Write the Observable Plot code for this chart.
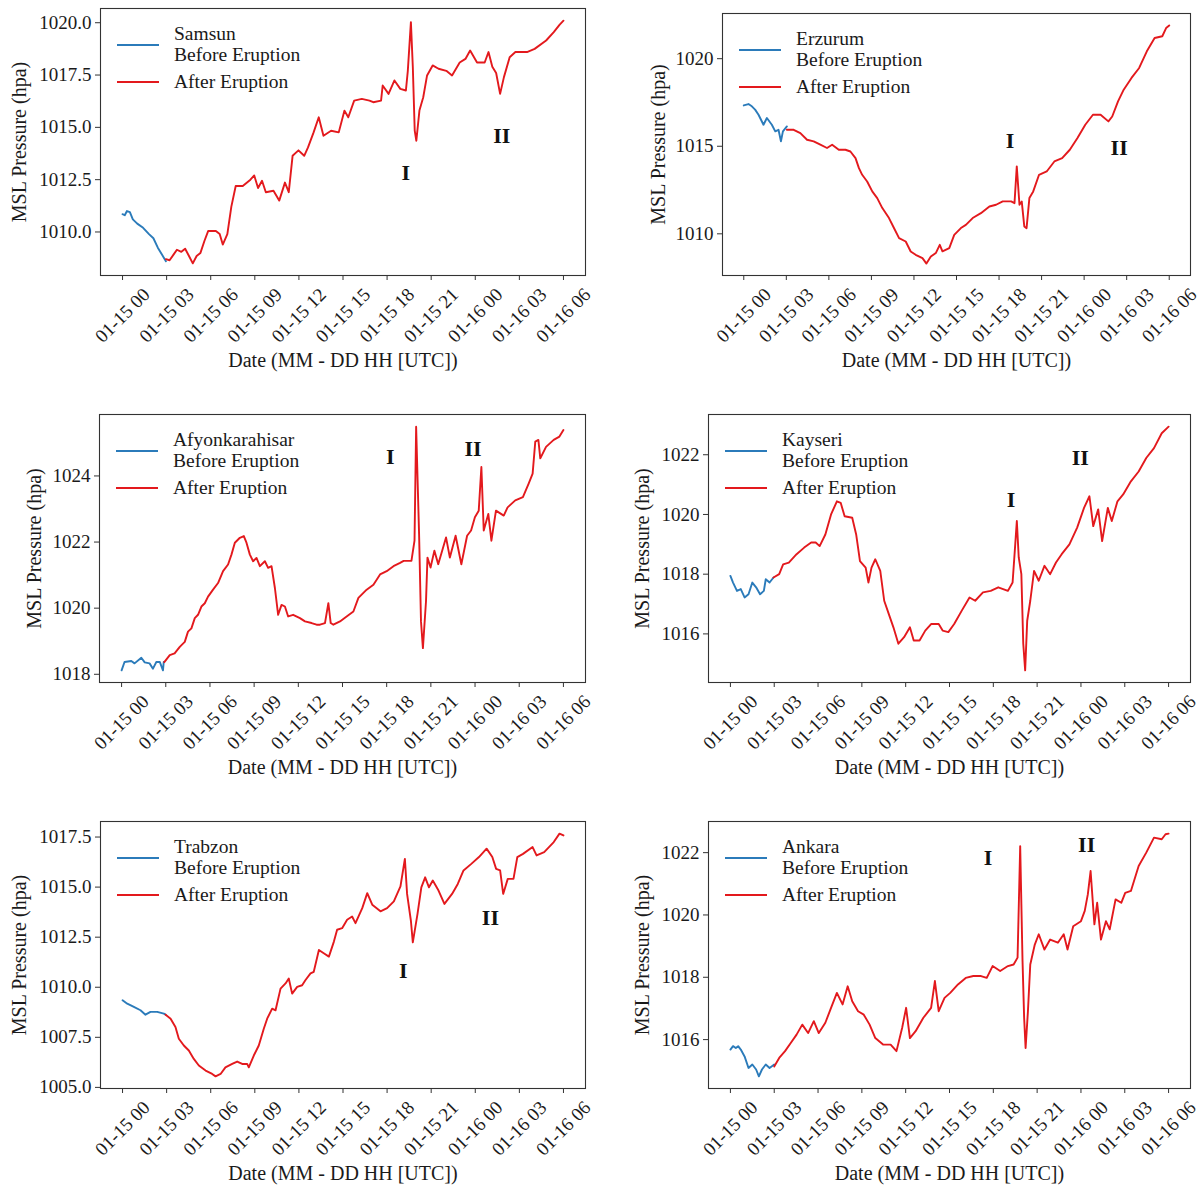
<!DOCTYPE html>
<html><head><meta charset="utf-8">
<script src="https://cdn.jsdelivr.net/npm/d3@7"></script>
<script src="https://cdn.jsdelivr.net/npm/@observablehq/plot@0.6"></script>
<style>
html,body{margin:0;padding:0;background:#fff;}
#root{position:relative;width:1204px;height:1189px;background:#fff;font-family:"Liberation Serif","Times New Roman",serif;overflow:hidden;}
.panel{position:absolute;}
.legend{position:absolute;width:260px;height:90px;}
.legend .sw{position:absolute;left:17px;width:42px;height:2px;}
.legend .lb{position:absolute;left:74px;font-size:19.5px;line-height:22px;color:#1a1a1a;white-space:nowrap;}
</style></head>
<body><div id="root"></div>
<script>
// ---- shared axis values ----
const tickHours = [0, 3, 6, 9, 12, 15, 18, 21, 24, 27, 30];
const tickLabels = ["01-15 00","01-15 03","01-15 06","01-15 09","01-15 12","01-15 15","01-15 18","01-15 21","01-16 00","01-16 03","01-16 06"];
const xTitle = "Date (MM - DD HH [UTC])";
const yTitle = "MSL Pressure (hpa)";
const seriesNames = ["Before Eruption", "After Eruption"];
const stationNames = ["Samsun", "Erzurum", "Afyonkarahisar", "Kayseri", "Trabzon", "Ankara"];

// ---- data: [hour since 01-15 00 UTC, MSL pressure hPa] ----
const samsunBefore = [[0,1010.85],[0.15,1010.8],[0.3,1011.0],[0.5,1010.95],[0.7,1010.6],[1.0,1010.4],[1.4,1010.2],[1.8,1009.9],[2.1,1009.7],[2.4,1009.25],[2.7,1008.9],[2.95,1008.6]];
const samsunAfter = [[2.95,1008.7],[3.2,1008.65],[3.48,1008.93],[3.7,1009.15],[4.0,1009.05],[4.26,1009.2],[4.52,1008.85],[4.78,1008.5],[5.04,1008.85],[5.3,1009.0],[5.57,1009.57],[5.83,1010.05],[6.35,1010.05],[6.61,1009.9],[6.82,1009.4],[7.13,1009.9],[7.4,1011.2],[7.7,1012.2],[8.18,1012.2],[8.7,1012.5],[8.96,1012.7],[9.22,1012.1],[9.49,1012.45],[9.75,1011.9],[10.27,1011.97],[10.66,1011.5],[11.05,1012.36],[11.31,1011.9],[11.57,1013.64],[11.97,1013.9],[12.36,1013.64],[12.62,1014.04],[13.0,1014.76],[13.35,1015.48],[13.67,1014.6],[14.19,1014.84],[14.71,1014.76],[15.1,1015.8],[15.36,1015.48],[15.76,1016.28],[16.28,1016.36],[16.8,1016.28],[17.06,1016.2],[17.59,1016.28],[17.7,1017.0],[18.1,1016.6],[18.5,1017.24],[18.9,1016.84],[19.28,1016.76],[19.41,1017.7],[19.62,1020.03],[19.75,1017.9],[19.88,1014.84],[19.99,1014.36],[20.2,1015.8],[20.46,1016.44],[20.72,1017.48],[21.1,1017.96],[21.5,1017.8],[22.03,1017.7],[22.42,1017.48],[22.94,1018.1],[23.33,1018.27],[23.65,1018.67],[24.12,1018.1],[24.64,1018.1],[24.9,1018.6],[25.16,1017.9],[25.42,1017.6],[25.69,1016.6],[25.95,1017.4],[26.34,1018.35],[26.73,1018.6],[27.52,1018.6],[28.04,1018.75],[28.82,1019.15],[29.34,1019.55],[29.73,1019.9],[30,1020.1]];
const samsunMarks = [[19.28,1012.84,"I"],[25.8,1014.6,"II"]];
const samsunYTicks = [1010, 1012.5, 1015, 1017.5, 1020];

const erzurumBefore = [[0,1017.33],[0.33,1017.41],[0.57,1017.28],[0.8,1017.09],[1.04,1016.8],[1.39,1016.23],[1.63,1016.61],[1.98,1016.23],[2.22,1015.85],[2.45,1015.94],[2.62,1015.28],[2.76,1015.85],[3.04,1016.13]];
const erzurumAfter = [[3.04,1015.94],[3.52,1015.94],[3.99,1015.75],[4.46,1015.37],[4.93,1015.28],[5.4,1015.09],[5.87,1014.9],[6.23,1015.09],[6.7,1014.8],[7.17,1014.8],[7.52,1014.7],[7.88,1014.32],[8.12,1013.75],[8.35,1013.37],[8.7,1012.99],[9.06,1012.42],[9.41,1012.04],[9.77,1011.47],[10.24,1010.9],[10.59,1010.33],[10.95,1009.75],[11.42,1009.56],[11.77,1008.99],[12.12,1008.8],[12.6,1008.61],[12.88,1008.3],[13.19,1008.7],[13.54,1008.9],[13.82,1009.37],[14.01,1009.0],[14.49,1009.18],[14.84,1009.94],[15.31,1010.33],[15.66,1010.51],[16.14,1010.9],[16.72,1011.18],[17.32,1011.56],[17.79,1011.66],[18.26,1011.85],[18.85,1011.85],[19.09,1011.75],[19.25,1013.85],[19.44,1011.66],[19.6,1011.85],[19.78,1010.42],[19.94,1010.32],[20.14,1012.04],[20.41,1012.42],[20.82,1013.37],[21.36,1013.56],[21.9,1014.13],[22.45,1014.32],[22.99,1014.8],[23.53,1015.47],[24.08,1016.23],[24.62,1016.8],[25.16,1016.8],[25.71,1016.42],[25.98,1016.7],[26.39,1017.56],[26.79,1018.23],[27.34,1018.9],[27.88,1019.47],[28.42,1020.42],[28.97,1021.18],[29.51,1021.28],[29.78,1021.75],[30,1021.9]];
const erzurumMarks = [[18.78,1015.3,"I"],[26.47,1014.9,"II"]];
const erzurumYTicks = [1010, 1015, 1020];

const afyonBefore = [[0,1018.12],[0.2,1018.37],[0.66,1018.4],[0.88,1018.33],[1.34,1018.5],[1.57,1018.36],[1.9,1018.33],[2.13,1018.17],[2.36,1018.37],[2.6,1018.37],[2.81,1018.12],[2.86,1018.37]];
const afyonAfter = [[2.9,1018.37],[3.27,1018.58],[3.6,1018.63],[3.95,1018.83],[4.29,1018.98],[4.51,1019.29],[4.74,1019.39],[4.97,1019.7],[5.19,1019.8],[5.42,1020.05],[5.65,1020.15],[5.87,1020.35],[6.21,1020.56],[6.55,1020.76],[6.89,1021.12],[7.23,1021.32],[7.46,1021.62],[7.69,1021.98],[8.03,1022.13],[8.3,1022.18],[8.48,1021.98],[8.71,1021.62],[8.93,1021.42],[9.16,1021.52],[9.39,1021.27],[9.73,1021.42],[9.95,1021.22],[10.18,1021.27],[10.41,1020.61],[10.63,1019.8],[10.86,1020.1],[11.09,1020.05],[11.31,1019.75],[11.65,1019.8],[12.11,1019.7],[12.45,1019.6],[12.9,1019.55],[13.24,1019.5],[13.47,1019.5],[13.81,1019.55],[14.04,1020.15],[14.2,1019.55],[14.38,1019.5],[14.83,1019.6],[15.28,1019.75],[15.74,1019.9],[16.08,1020.31],[16.64,1020.56],[17.1,1020.71],[17.55,1021.02],[18.0,1021.12],[18.46,1021.27],[18.91,1021.37],[19.15,1021.43],[19.68,1021.43],[19.89,1022.04],[20.0,1025.49],[20.2,1022.24],[20.33,1019.6],[20.46,1018.79],[20.67,1020.21],[20.77,1021.53],[20.98,1021.23],[21.24,1021.74],[21.5,1021.33],[22.03,1022.14],[22.29,1021.53],[22.68,1022.19],[23.07,1021.33],[23.46,1022.19],[23.73,1022.35],[23.99,1022.75],[24.25,1022.95],[24.43,1024.27],[24.59,1022.35],[24.9,1022.85],[25.11,1022.04],[25.42,1022.95],[25.95,1022.8],[26.21,1023.05],[26.73,1023.26],[27.25,1023.36],[27.64,1023.77],[27.91,1024.07],[28.09,1025.04],[28.3,1025.09],[28.43,1024.53],[28.82,1024.88],[29.34,1025.09],[29.73,1025.19],[30,1025.39]];
const afyonMarks = [[18.24,1024.58,"I"],[23.86,1024.83,"II"]];
const afyonYTicks = [1018, 1020, 1022, 1024];

const kayseriBefore = [[0,1017.94],[0.18,1017.72],[0.45,1017.44],[0.71,1017.5],[0.97,1017.22],[1.24,1017.33],[1.5,1017.72],[1.76,1017.56],[2.03,1017.33],[2.29,1017.44],[2.42,1017.83],[2.68,1017.72],[2.95,1017.89]];
const kayseriAfter = [[2.95,1017.89],[3.34,1018.0],[3.61,1018.33],[4.0,1018.39],[4.53,1018.67],[5.05,1018.89],[5.53,1019.06],[5.84,1019.06],[6.11,1018.94],[6.5,1019.33],[6.89,1020.0],[7.29,1020.44],[7.55,1020.39],[7.82,1019.94],[8.34,1019.89],[8.61,1019.33],[8.87,1018.44],[9.26,1018.22],[9.45,1017.72],[9.66,1018.22],[9.92,1018.5],[10.26,1018.11],[10.53,1017.11],[10.84,1016.67],[11.16,1016.22],[11.5,1015.67],[11.89,1015.89],[12.29,1016.22],[12.55,1015.78],[12.95,1015.78],[13.34,1016.11],[13.74,1016.33],[14.26,1016.33],[14.53,1016.11],[14.92,1016.06],[15.32,1016.33],[15.84,1016.78],[16.37,1017.22],[16.76,1017.11],[17.29,1017.39],[17.82,1017.44],[18.34,1017.56],[19.0,1017.44],[19.32,1017.72],[19.47,1018.78],[19.61,1019.78],[19.74,1018.56],[19.92,1018.0],[20.05,1015.67],[20.18,1014.78],[20.32,1016.44],[20.53,1017.11],[20.79,1018.11],[21.11,1017.78],[21.5,1018.28],[21.89,1018.0],[22.29,1018.39],[22.68,1018.67],[23.21,1019.0],[23.74,1019.56],[24.21,1020.22],[24.58,1020.61],[24.84,1019.61],[25.18,1020.17],[25.45,1019.11],[25.84,1020.22],[26.11,1019.78],[26.5,1020.44],[26.89,1020.67],[27.42,1021.11],[27.95,1021.44],[28.47,1021.89],[29.0,1022.22],[29.53,1022.72],[30,1022.94]];
const kayseriMarks = [[19.21,1020.5,"I"],[23.95,1021.89,"II"]];
const kayseriYTicks = [1016, 1018, 1020, 1022];

const trabzonBefore = [[0,1009.35],[0.32,1009.18],[0.77,1009.02],[1.22,1008.85],[1.56,1008.63],[1.9,1008.77],[2.36,1008.77],[2.81,1008.68],[2.93,1008.63]];
const trabzonAfter = [[2.93,1008.63],[3.27,1008.43],[3.6,1008.01],[3.83,1007.43],[4.17,1007.09],[4.51,1006.84],[4.85,1006.42],[5.19,1006.09],[5.65,1005.84],[6.1,1005.67],[6.33,1005.55],[6.67,1005.67],[7.0,1006.0],[7.46,1006.17],[7.8,1006.29],[8.14,1006.17],[8.48,1006.17],[8.59,1006.0],[8.93,1006.59],[9.27,1007.09],[9.61,1007.93],[9.84,1008.43],[10.18,1008.93],[10.41,1008.85],[10.75,1009.93],[11.09,1010.19],[11.31,1010.44],[11.54,1009.68],[11.88,1010.02],[12.22,1010.1],[12.45,1010.36],[12.79,1010.69],[13.01,1010.77],[13.36,1011.86],[13.69,1011.7],[14.04,1011.53],[14.38,1012.28],[14.6,1012.87],[14.94,1012.95],[15.28,1013.37],[15.62,1013.53],[15.85,1013.2],[16.31,1013.95],[16.65,1014.7],[16.99,1014.12],[17.55,1013.79],[18.0,1013.95],[18.46,1014.29],[18.91,1015.04],[19.21,1016.41],[19.36,1014.66],[19.62,1013.32],[19.75,1012.24],[20.07,1013.66],[20.33,1014.99],[20.59,1015.49],[20.85,1014.99],[21.11,1015.33],[21.5,1014.83],[21.9,1014.16],[22.42,1014.66],[22.81,1015.16],[23.2,1015.83],[23.73,1016.16],[24.25,1016.5],[24.77,1016.92],[25.16,1016.5],[25.42,1015.91],[25.69,1015.83],[25.9,1014.66],[26.21,1015.41],[26.6,1015.41],[26.86,1016.5],[27.25,1016.66],[27.9,1017.0],[28.17,1016.58],[28.69,1016.75],[29.34,1017.25],[29.73,1017.67],[30,1017.58]];
const trabzonMarks = [[19.1,1010.82,"I"],[25.03,1013.46,"II"]];
const trabzonYTicks = [1005, 1007.5, 1010, 1012.5, 1015, 1017.5];

const ankaraBefore = [[0,1015.68],[0.18,1015.79],[0.37,1015.73],[0.53,1015.79],[0.71,1015.68],[0.97,1015.46],[1.24,1015.09],[1.5,1015.2],[1.76,1015.04],[1.95,1014.82],[2.16,1015.04],[2.42,1015.2],[2.68,1015.09],[3.0,1015.2]];
const ankaraAfter = [[3.0,1015.14],[3.34,1015.41],[3.74,1015.63],[4.13,1015.89],[4.53,1016.16],[4.92,1016.48],[5.32,1016.21],[5.71,1016.59],[6.05,1016.21],[6.5,1016.54],[6.89,1017.02],[7.29,1017.5],[7.68,1017.13],[8.03,1017.71],[8.34,1017.23],[8.74,1016.91],[9.13,1016.8],[9.53,1016.48],[9.92,1016.05],[10.45,1015.84],[10.97,1015.84],[11.37,1015.63],[11.76,1016.38],[12.03,1017.02],[12.29,1016.05],[12.68,1016.27],[13.21,1016.7],[13.74,1017.02],[14.0,1017.88],[14.26,1016.91],[14.66,1017.34],[15.05,1017.5],[15.58,1017.77],[16.11,1017.98],[16.63,1018.04],[17.16,1018.04],[17.55,1017.98],[17.95,1018.36],[18.47,1018.2],[19.0,1018.36],[19.39,1018.41],[19.66,1018.63],[19.84,1022.21],[20.0,1018.52],[20.11,1016.7],[20.21,1015.73],[20.37,1016.91],[20.53,1018.41],[20.84,1019.05],[21.11,1019.38],[21.5,1018.89],[21.89,1019.21],[22.42,1019.11],[22.82,1019.38],[23.08,1018.89],[23.47,1019.64],[24.0,1019.8],[24.26,1020.13],[24.47,1020.66],[24.66,1021.41],[24.92,1019.7],[25.11,1020.39],[25.37,1019.21],[25.71,1019.8],[25.97,1019.54],[26.37,1020.5],[26.76,1020.39],[27.03,1020.71],[27.42,1020.77],[27.95,1021.57],[28.47,1022.0],[29.0,1022.48],[29.53,1022.43],[29.79,1022.59],[30,1022.61]];
const ankaraMarks = [[17.63,1021.84,"I"],[24.39,1022.24,"II"]];
const ankaraYTicks = [1016, 1018, 1020, 1022];

// ---- layout (positions & styles) ----
const BLUE = "#2b7bba", RED = "#e3191d";
const panels = [
  {name: stationNames[0], before: samsunBefore, after: samsunAfter, marks: samsunMarks, yTicks: samsunYTicks, fmt: ".1f", box: [0,0,600,395],    m: [8,15,120,100],  yLab: 81},
  {name: stationNames[1], before: erzurumBefore, after: erzurumAfter, marks: erzurumMarks, yTicks: erzurumYTicks, fmt: "d", box: [600,0,604,395],  m: [13,14,120,122], yLab: 64},
  {name: stationNames[2], before: afyonBefore, after: afyonAfter, marks: afyonMarks, yTicks: afyonYTicks, fmt: "d", box: [0,400,600,405],  m: [14,15,123,99],  yLab: 65},
  {name: stationNames[3], before: kayseriBefore, after: kayseriAfter, marks: kayseriMarks, yTicks: kayseriYTicks, fmt: "d", box: [600,400,604,405], m: [14,14,123,108], yLab: 66},
  {name: stationNames[4], before: trabzonBefore, after: trabzonAfter, marks: trabzonMarks, yTicks: trabzonYTicks, fmt: ".1f", box: [0,810,600,379],  m: [11,15,101,100], yLab: 81},
  {name: stationNames[5], before: ankaraBefore, after: ankaraAfter, marks: ankaraMarks, yTicks: ankaraYTicks, fmt: "d", box: [600,810,604,379], m: [11,14,101,108], yLab: 66}
];

const root = document.getElementById("root");
const toRows = arr => arr.map(([h, v]) => ({h, v}));
const pad = ([a, b]) => { const p = (b - a) * 0.05; return [a - p, b + p]; };

for (const P of panels) {
  const [bx, by, bw, bh] = P.box;
  const [mt, mr, mb, ml] = P.m;
  const before = toRows(P.before), after = toRows(P.after);
  const all = before.concat(after);
  const xDomain = pad(d3.extent(all, d => d.h));
  const yDomain = pad(d3.extent(all, d => d.v));
  const notes = P.marks.map(([h, v, t]) => ({h, v, t}));

  const svg = Plot.plot({
    width: bw, height: bh,
    marginTop: mt, marginRight: mr, marginBottom: mb, marginLeft: ml,
    style: {fontFamily: '"Liberation Serif","Times New Roman",serif', fontSize: "19px", color: "#1a1a1a", background: "transparent", overflow: "visible"},
    x: {domain: xDomain},
    y: {domain: yDomain},
    marks: [
      Plot.axisX({ticks: tickHours, tickFormat: () => "", tickSize: 5, label: null, stroke: "#333"}),
      Plot.text(tickHours, {x: d => d, text: (d, i) => tickLabels[i], frameAnchor: "bottom", textAnchor: "middle", lineAnchor: "middle", rotate: -45, dy: 40, fontSize: 19, fill: "#1a1a1a"}),
      Plot.axisY({ticks: P.yTicks, tickFormat: d3.format(P.fmt), tickSize: 5, tickPadding: 4, fontSize: 19, label: null, stroke: "#333"}),
      Plot.text([xTitle], {text: d => d, frameAnchor: "bottom", textAnchor: "middle", lineAnchor: "middle", dy: 85, fontSize: 20, fill: "#1a1a1a"}),
      Plot.text([yTitle], {text: d => d, frameAnchor: "left", textAnchor: "middle", lineAnchor: "middle", rotate: -90, dx: -P.yLab, fontSize: 20, fill: "#1a1a1a"}),
      Plot.line(before, {x: "h", y: "v", stroke: BLUE, strokeWidth: 1.9}),
      Plot.line(after, {x: "h", y: "v", stroke: RED, strokeWidth: 1.9}),
      Plot.text(notes, {x: "h", y: "v", text: "t", fontWeight: "bold", fontSize: 22, fill: "#111"}),
      Plot.frame({stroke: "#333", strokeWidth: 1.1})
    ]
  });
  const wrap = document.createElement("div");
  wrap.className = "panel";
  wrap.style.left = bx + "px"; wrap.style.top = by + "px";
  wrap.appendChild(svg);
  root.appendChild(wrap);

  // legend inside the frame (upper left)
  const lg = document.createElement("div");
  lg.className = "legend";
  lg.style.left = (bx + ml) + "px"; lg.style.top = (by + mt) + "px";
  const sw1 = document.createElement("div"); sw1.className = "sw"; sw1.style.top = "36px"; sw1.style.background = BLUE;
  const sw2 = document.createElement("div"); sw2.className = "sw"; sw2.style.top = "73px"; sw2.style.background = RED;
  const l1 = document.createElement("div"); l1.className = "lb"; l1.style.top = "14.5px"; l1.textContent = P.name;
  const l2 = document.createElement("div"); l2.className = "lb"; l2.style.top = "35.5px"; l2.textContent = seriesNames[0];
  const l3 = document.createElement("div"); l3.className = "lb"; l3.style.top = "63px"; l3.textContent = seriesNames[1];
  lg.append(sw1, sw2, l1, l2, l3);
  root.appendChild(lg);
}
</script>
</body></html>
